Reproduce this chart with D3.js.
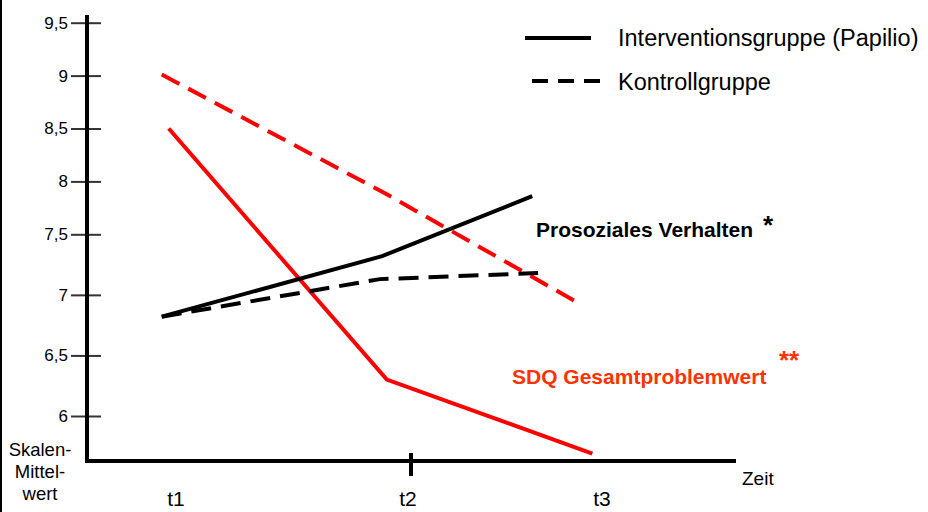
<!DOCTYPE html>
<html>
<head>
<meta charset="utf-8">
<script src="https://cdn.jsdelivr.net/npm/d3@7"></script>
<style>
  body { margin: 0; background: #fff; }
  svg { display: block; font-family: "Liberation Sans", Arial, sans-serif; }
</style>
</head>
<body>
<svg width="928" height="512"></svg>
<script>
// data (x in time units t1..t3, y = scale mean)
const yTicks = [6, 6.5, 7, 7.5, 8, 8.5, 9, 9.5];
const timeLabels = ["t1", "t2", "t3"];

const proInterventionT = [0.93, 1.88, 2.63];
const proInterventionV = [6.82, 7.32, 7.86];
const proKontrollT = [0.93, 1.87, 2.66];
const proKontrollV = [6.82, 7.13, 7.18];

const sdqInterventionT = [0.96, 1.9, 2.94];
const sdqInterventionV = [8.5, 6.3, 5.69];
const sdqKontrollT = [0.93, 1.89, 2.86];
const sdqKontrollV = [9.01, 7.89, 6.94];

const svg = d3.select("svg");

// y scale is not even in the original: 7.5..9.5 is squeezed
const y = d3.scaleLinear()
    .domain([6, 7.5, 9.5])
    .range([416, 234.3, 22.7]);

const x = d3.scaleLinear()
    .domain([1, 2, 3])
    .range([178, 410, 604]);

// left border
svg.append("line")
    .attr("x1", 1).attr("x2", 1)
    .attr("y1", 0).attr("y2", 512)
    .attr("stroke", "#000").attr("stroke-width", 2);

// Y ticks
const yAxisCall = d3.axisLeft(y)
    .tickValues(yTicks)
    .tickSize(30)
    .tickFormat(d => String(d).replace(".", ","));
const gy = svg.append("g")
    .attr("transform", "translate(101,0)")
    .call(yAxisCall);
gy.select(".domain").remove();
gy.selectAll(".tick line").attr("stroke", "#333").attr("stroke-width", 2);
gy.selectAll(".tick text")
    .attr("x", -33)
    .attr("font-size", "17px")
    .attr("fill", "#000")
    .attr("font-family", "Liberation Sans, Arial, sans-serif");

// axes lines
svg.append("line")
    .attr("x1", 87).attr("x2", 87)
    .attr("y1", 15).attr("y2", 463)
    .attr("stroke", "#000").attr("stroke-width", 4);
svg.append("line")
    .attr("x1", 85).attr("x2", 736)
    .attr("y1", 461).attr("y2", 461)
    .attr("stroke", "#000").attr("stroke-width", 4);
// t2 tick
svg.append("line")
    .attr("x1", x(2) + 1).attr("x2", x(2) + 1)
    .attr("y1", 453).attr("y2", 476)
    .attr("stroke", "#000").attr("stroke-width", 4);

// X labels
svg.selectAll(".tlabel").data(timeLabels).enter().append("text")
    .attr("class", "tlabel")
    .attr("x", (d, i) => x(i + 1) - 2)
    .attr("y", 506)
    .attr("text-anchor", "middle")
    .attr("font-size", "21px")
    .text(d => d);

svg.append("text")
    .attr("x", 742).attr("y", 485)
    .attr("font-size", "19px")
    .text("Zeit");

const yLab = svg.append("text")
    .attr("font-size", "18.5px")
    .attr("text-anchor", "middle");
["Skalen-", "Mittel-", "wert"].forEach((s, i) => {
    yLab.append("tspan").attr("x", 40).attr("y", 456 + i * 22).text(s);
});

// lines
const line = d3.line()
    .x(d => x(d[0]))
    .y(d => y(d[1]));

const series = [
    {t: sdqKontrollT, v: sdqKontrollV, color: "#ff0000", dash: "20,10"},
    {t: sdqInterventionT, v: sdqInterventionV, color: "#ff0000", dash: null},
    {t: proKontrollT, v: proKontrollV, color: "#000", dash: "20,10"},
    {t: proInterventionT, v: proInterventionV, color: "#000", dash: null}
];

series.forEach(s => {
    svg.append("path")
        .datum(d3.zip(s.t, s.v))
        .attr("d", line)
        .attr("fill", "none")
        .attr("stroke", s.color)
        .attr("stroke-width", 4)
        .attr("stroke-dasharray", s.dash);
});

// legend
svg.append("line")
    .attr("x1", 525).attr("x2", 591)
    .attr("y1", 38).attr("y2", 38)
    .attr("stroke", "#000").attr("stroke-width", 4);
svg.append("text")
    .attr("x", 618).attr("y", 46)
    .attr("font-size", "23.5px")
    .text("Interventionsgruppe (Papilio)");
svg.append("line")
    .attr("x1", 532).attr("x2", 600)
    .attr("y1", 81).attr("y2", 81)
    .attr("stroke", "#000").attr("stroke-width", 4)
    .attr("stroke-dasharray", "16,10");
svg.append("text")
    .attr("x", 618).attr("y", 90)
    .attr("font-size", "23.5px")
    .text("Kontrollgruppe");

// annotations
svg.append("text")
    .attr("x", 536).attr("y", 237)
    .attr("font-size", "21px")
    .attr("font-weight", "bold")
    .text("Prosoziales Verhalten");
svg.append("text")
    .attr("x", 763).attr("y", 234)
    .attr("font-size", "26px")
    .attr("font-weight", "bold")
    .text("*");
svg.append("text")
    .attr("x", 512).attr("y", 384)
    .attr("font-size", "21px")
    .attr("font-weight", "bold")
    .attr("fill", "#ff3300")
    .text("SDQ Gesamtproblemwert");
svg.append("text")
    .attr("x", 779).attr("y", 369)
    .attr("font-size", "26px")
    .attr("font-weight", "bold")
    .attr("fill", "#ff3300")
    .text("**");
</script>
</body>
</html>
